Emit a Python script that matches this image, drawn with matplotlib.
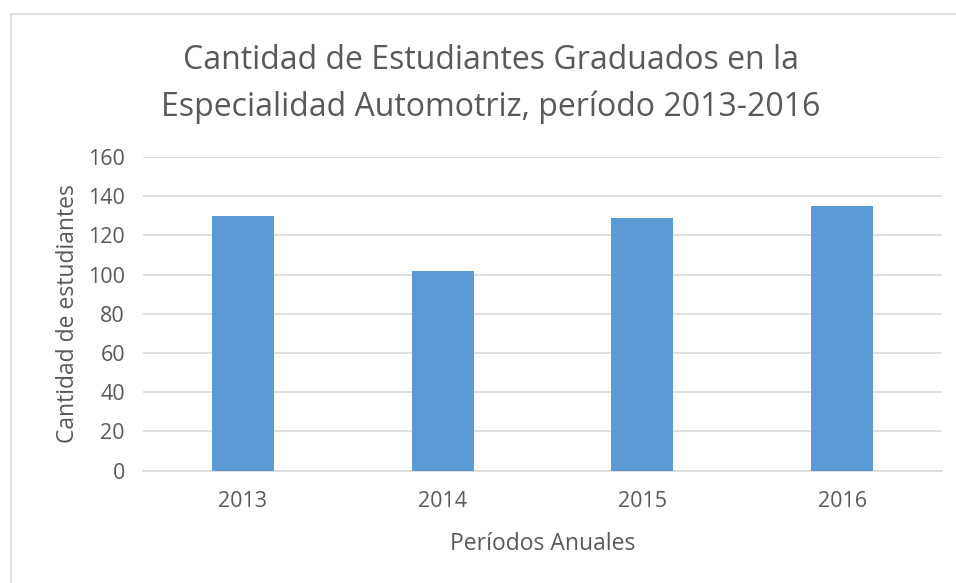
import matplotlib
matplotlib.use("Agg")
import matplotlib.pyplot as plt
from matplotlib.patches import Rectangle

years = ["2013", "2014", "2015", "2016"]
graduados = [130, 102, 129, 135]
y_ticks = [0, 20, 40, 60, 80, 100, 120, 140, 160]

titulo = "Cantidad de Estudiantes Graduados en la\nEspecialidad Automotriz, período 2013-2016"

plt.rcParams["font.family"] = ["Open Sans", "DejaVu Sans"]
text_col = "#595959"
grid_col = "#D9D9D9"

fig = plt.figure(figsize=(9.56, 5.83), dpi=100)
ax = fig.add_axes([143 / 956, 1 - 470.6 / 583, (942 - 143) / 956, (470.6 - 157) / 583])

# chart area border (cut off on right/bottom like the screenshot)
fig.patches.append(Rectangle((11 / 956, -0.1), 1.2, 1 - 14 / 583 + 0.1,
                             transform=fig.transFigure, fill=False,
                             edgecolor=grid_col, linewidth=1.2))

x = range(len(years))
ax.bar(x, graduados, width=0.31, color="#5B9BD5", zorder=3)

ax.set_ylim(0, 160)
ax.set_xlim(-0.5, len(years) - 0.5)
ax.set_yticks(y_ticks)
ax.set_xticks(list(x))
ax.set_xticklabels(years)
ax.yaxis.grid(True, color=grid_col, linewidth=1.2, zorder=0)
ax.tick_params(axis="both", length=0, labelsize=15.5, colors=text_col)
ax.tick_params(axis="x", pad=15)
ax.tick_params(axis="y", pad=13)

for s in ["top", "right", "left"]:
    ax.spines[s].set_visible(False)
ax.spines["bottom"].set_color(grid_col)
ax.spines["bottom"].set_linewidth(1.2)

ax.set_xlabel("Períodos Anuales", fontsize=16.5, color=text_col, labelpad=14)
ax.set_ylabel("Cantidad de estudiantes", fontsize=16.5, color=text_col, labelpad=6)

fig.text(491 / 956, 1 - 84 / 583, titulo, ha="center", va="center",
         fontsize=23, color=text_col, linespacing=1.5)

fig.savefig("out.png", dpi=100)
